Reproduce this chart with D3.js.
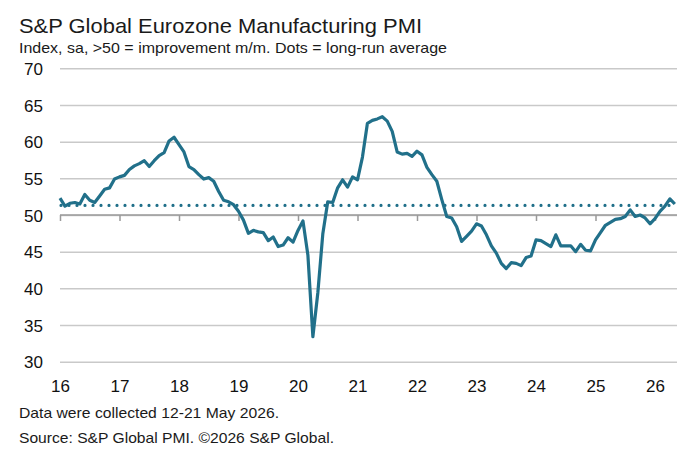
<!DOCTYPE html>
<html>
<head>
<meta charset="utf-8">
<script src="https://cdn.jsdelivr.net/npm/d3@7"></script>
<style>
  html, body { margin: 0; padding: 0; background: #fff; }
  svg { display: block; font-family: "Liberation Sans", Arial, sans-serif; }
</style>
</head>
<body>
<div class="chart"></div>
<script>
// monthly PMI, Jan 2016 .. May 2026
var startYear = 2016;
var pmi2016 = [52.3, 51.2, 51.6, 51.7, 51.5, 52.8, 52.0, 51.7, 52.6, 53.5, 53.7, 54.9];
var pmi2017 = [55.2, 55.4, 56.2, 56.7, 57.0, 57.4, 56.6, 57.4, 58.1, 58.5, 60.1, 60.6];
var pmi2018 = [59.6, 58.6, 56.6, 56.2, 55.5, 54.9, 55.1, 54.6, 53.2, 52.0, 51.8, 51.4];
var pmi2019 = [50.5, 49.3, 47.5, 47.9, 47.7, 47.6, 46.5, 47.0, 45.7, 45.9, 46.9, 46.3];
var pmi2020 = [47.9, 49.2, 44.5, 33.4, 39.4, 47.4, 51.8, 51.7, 53.7, 54.8, 53.8, 55.2];
var pmi2021 = [54.8, 57.9, 62.5, 62.9, 63.1, 63.4, 62.8, 61.4, 58.6, 58.3, 58.4, 58.0];
var pmi2022 = [58.7, 58.2, 56.5, 55.5, 54.6, 52.1, 49.8, 49.6, 48.4, 46.4, 47.1, 47.8];
var pmi2023 = [48.8, 48.5, 47.3, 45.8, 44.8, 43.4, 42.7, 43.5, 43.4, 43.1, 44.2, 44.4];
var pmi2024 = [46.6, 46.5, 46.1, 45.7, 47.3, 45.8, 45.8, 45.8, 45.0, 46.0, 45.2, 45.1];
var pmi2025 = [46.6, 47.6, 48.6, 49.0, 49.4, 49.5, 49.8, 50.7, 49.8, 50.0, 49.6, 48.8];
var pmi2026 = [49.5, 50.5, 51.2, 52.2, 51.5];
var longRunAverage = 51.3;

var yTicks = [30, 35, 40, 45, 50, 55, 60, 65, 70];
var yearTicks = [2016, 2017, 2018, 2019, 2020, 2021, 2022, 2023, 2024, 2025, 2026];

var title = "S&P Global Eurozone Manufacturing PMI";
var subtitle = "Index, sa, >50 = improvement m/m. Dots = long-run average";
var notes = ["Data were collected 12-21 May 2026.", "Source: S&P Global PMI. \u00a92026 S&P Global."];

var values = [].concat(pmi2016, pmi2017, pmi2018, pmi2019, pmi2020, pmi2021,
  pmi2022, pmi2023, pmi2024, pmi2025, pmi2026);

var width = 699;
var height = 461;
var lineColor = "#21708a";

var svg = d3.select(".chart").append("svg")
  .attr("width", width)
  .attr("height", height);

// scales
var x = d3.scaleLinear().domain([2016, 2026]).range([60, 655]);
var y = d3.scaleLinear().domain([30, 70]).range([361.7, 68.3]);
var plotRight = 677;

// gridlines + y labels
var yAxis = svg.append("g")
  .attr("transform", "translate(60,0)")
  .call(d3.axisLeft(y).tickValues(yTicks).tickSize(-(plotRight - 60)).tickPadding(17));
yAxis.select(".domain").remove();
yAxis.selectAll("line").attr("stroke", "#c9c9c9").attr("stroke-width", 1.5);
yAxis.selectAll("text")
  .attr("fill", "#111")
  .style("font-size", "17px")
  .attr("dy", "0.36em");

// axis line at 50 with year ticks
var midAxis = svg.append("g")
  .attr("transform", "translate(0," + y(50) + ")")
  .call(d3.axisBottom(x).tickValues(yearTicks).tickSize(6).tickFormat(""));
midAxis.select(".domain")
  .attr("d", "M60,0H" + plotRight)
  .attr("stroke", "#9a9a9a")
  .attr("stroke-width", 1.5);
midAxis.selectAll("line").attr("stroke", "#9a9a9a").attr("stroke-width", 1.5);

// year labels at bottom
var bottomAxis = svg.append("g")
  .attr("transform", "translate(0," + y(30) + ")")
  .call(d3.axisBottom(x).tickValues(yearTicks).tickSize(0).tickPadding(18)
    .tickFormat(function (d) { return String(d).slice(2); }));
bottomAxis.select(".domain").remove();
bottomAxis.selectAll("text").attr("fill", "#111").style("font-size", "17px");

// long-run average dots
svg.append("line")
  .attr("x1", 61)
  .attr("x2", plotRight)
  .attr("y1", y(longRunAverage))
  .attr("y2", y(longRunAverage))
  .attr("stroke", lineColor)
  .attr("stroke-width", 3.2)
  .attr("stroke-linecap", "round")
  .attr("stroke-dasharray", "0 8");

// PMI line
var line = d3.line()
  .x(function (d, i) { return x(startYear + i / 12); })
  .y(function (d) { return y(d); });

svg.append("path")
  .datum(values)
  .attr("fill", "none")
  .attr("stroke", lineColor)
  .attr("stroke-width", 3.2)
  .attr("stroke-linejoin", "round")
  .attr("d", line);

// titles
svg.append("text")
  .attr("x", 19).attr("y", 33)
  .attr("fill", "#1a1a1a")
  .style("font-size", "21px")
  .attr("textLength", 403)
  .attr("lengthAdjust", "spacingAndGlyphs")
  .text(title);

svg.append("text")
  .attr("x", 19).attr("y", 53)
  .attr("fill", "#1a1a1a")
  .style("font-size", "15px")
  .attr("textLength", 428)
  .attr("lengthAdjust", "spacingAndGlyphs")
  .text(subtitle);

// footnotes
var noteWidths = [260, 315];
svg.selectAll(".note")
  .data(notes)
  .enter()
  .append("text")
  .attr("class", "note")
  .attr("x", 19)
  .attr("y", function (d, i) { return 418 + i * 25; })
  .attr("fill", "#1a1a1a")
  .style("font-size", "15px")
  .attr("textLength", function (d, i) { return noteWidths[i]; })
  .attr("lengthAdjust", "spacingAndGlyphs")
  .text(function (d) { return d; });
</script>
</body>
</html>
